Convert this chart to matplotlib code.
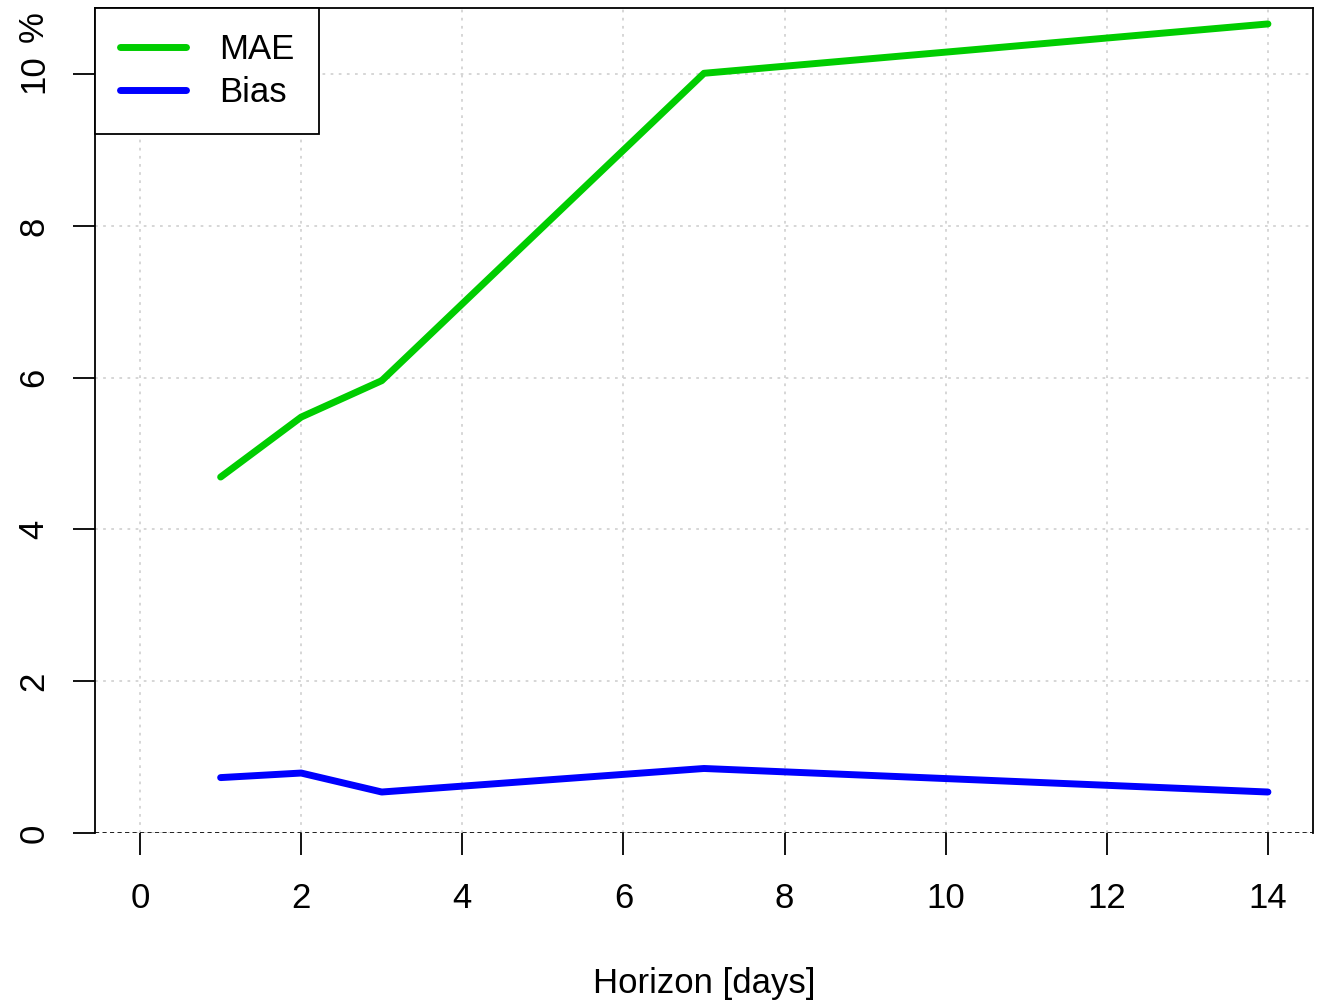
import matplotlib.pyplot as plt

plt.rcParams['font.family'] = ['Liberation Sans', 'DejaVu Sans']

# forecast horizons and error scores (%)
horizon = [1, 2, 3, 7, 14]
mae = [4.69, 5.48, 5.96, 10.01, 10.66]
bias = [0.73, 0.79, 0.54, 0.85, 0.54]

x_ticks = [0, 2, 4, 6, 8, 10, 12, 14]
y_ticks = [0, 2, 4, 6, 8, 10]
y_tick_labels = ['0', '2', '4', '6', '8', '10']

FS = 25

fig = plt.figure(figsize=(13.17, 10), dpi=100)
ax = fig.add_axes([0.0721, 0.167, 0.9249, 0.825])

# light dotted grid
for xv in x_ticks:
    ax.axvline(xv, color='#d3d3d3', linestyle=(0, (1.5, 3)), linewidth=1.3, zorder=1)
for yv in y_ticks:
    ax.axhline(yv, color='#d3d3d3', linestyle=(0, (1.5, 3)), linewidth=1.3, zorder=1)
ax.axhline(0, color='black', linestyle=(0, (2.5, 2)), linewidth=1.2, zorder=2)

ax.plot(horizon, mae, color='#00CD00', linewidth=5, solid_capstyle='round',
        solid_joinstyle='round', label='MAE', zorder=3)
ax.plot(horizon, bias, color='#0000FF', linewidth=5, solid_capstyle='round',
        solid_joinstyle='round', label='Bias', zorder=3)

ax.set_xlim(-0.56, 14.56)
ax.set_ylim(0, 10.87)

ax.spines['bottom'].set_visible(False)
for s in ['left', 'top', 'right']:
    ax.spines[s].set_linewidth(1.3)

ax.set_xticks(x_ticks)
ax.set_xticklabels([str(v) for v in x_ticks])
ax.set_yticks(y_ticks)
ax.set_yticklabels(y_tick_labels, rotation=90, va='center')
ax.tick_params(axis='x', length=16, width=1.3, pad=19, labelsize=FS)
ax.tick_params(axis='y', length=16, width=1.3, pad=16, labelsize=FS)

# "%" unit above the 10 label
ax.text(-0.0505, 0.977, '%', transform=ax.transAxes, rotation=90,
        ha='center', va='center', fontsize=FS)

ax.set_xlabel('Horizon [days]', fontsize=FS, labelpad=38)

leg = ax.legend(loc='upper left', bbox_to_anchor=(0, 1), fontsize=FS,
                handlelength=1.9, handletextpad=0.95, borderpad=0.72,
                labelspacing=0.28, fancybox=False, framealpha=1,
                edgecolor='black', borderaxespad=0)
leg.get_frame().set_linewidth(1.3)
for line in leg.get_lines():
    line.set_linewidth(5)
    line.set_solid_capstyle('round')

fig.savefig('out.png', dpi=100)
